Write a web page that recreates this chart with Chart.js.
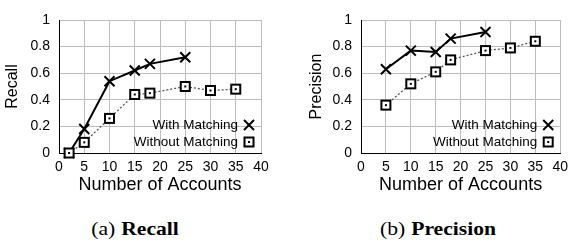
<!DOCTYPE html>
<html><head><meta charset="utf-8">
<script src="https://cdn.jsdelivr.net/npm/chart.js@4/dist/chart.umd.min.js"></script>
<style>
html,body{margin:0;padding:0;background:#fff;width:574px;height:249px;overflow:hidden}
.box{position:absolute;top:0;width:287px;height:200px}
.cap{position:absolute;top:219px;font-family:"Liberation Serif","Times New Roman",serif;font-size:18px;line-height:20px;color:#000;white-space:nowrap;transform:translateX(-50%) scaleX(1.2)}
.cap b{margin-left:5px}
</style></head><body>
<div class="box" style="left:0"><canvas id="c1" width="287" height="200"></canvas></div>
<div class="box" style="left:287px"><canvas id="c2" width="287" height="200"></canvas></div>
<div class="cap" style="left:135px">(a)<b>Recall</b></div>
<div class="cap" style="left:438px">(b)<b>Precision</b></div>
<script>
const xTicks = [0,5,10,15,20,25,30,35,40];
const yTicks = [0,0.2,0.4,0.6,0.8,1];
const seriesNames = ["With Matching","Without Matching"];

const recallWithX = [2,5,10,15,18,25];
const recallWithY = [0,0.18,0.54,0.62,0.67,0.72];
const recallWithoutX = [2,5,10,15,18,25,30,35];
const recallWithoutY = [0,0.08,0.26,0.44,0.45,0.50,0.47,0.48];

const precWithX = [5,10,15,18,25];
const precWithY = [0.63,0.77,0.76,0.86,0.91];
const precWithoutX = [5,10,15,18,25,30,35];
const precWithoutY = [0.36,0.52,0.61,0.70,0.77,0.79,0.84];

const FONT = "'Liberation Sans', Arial, Helvetica, sans-serif";
const pts = (xs, ys) => xs.map((x,i)=>({x, y: ys[i]}));

function drawMarker(ctx, style, x, y){
  ctx.save();
  ctx.strokeStyle = '#000';
  ctx.lineWidth = 2;
  if (style === 'x'){
    const r = 5;
    ctx.beginPath();
    ctx.moveTo(x-r,y-r); ctx.lineTo(x+r,y+r);
    ctx.moveTo(x-r,y+r); ctx.lineTo(x+r,y-r);
    ctx.stroke();
  } else {
    const r = 4.5;
    ctx.fillStyle = '#fff';
    ctx.fillRect(x-r,y-r,2*r,2*r);
    ctx.strokeRect(x-r,y-r,2*r,2*r);
    ctx.fillStyle = '#000';
    ctx.fillRect(x-1,y-1,2,2);
  }
  ctx.restore();
}

const legendPlugin = {
  id: 'gpLegend',
  afterDatasetsDraw(chart){
    const ctx = chart.ctx, a = chart.chartArea;
    const mx = a.right - 12, tx = a.right - 23;
    const rows = [[seriesNames[0],'x',125],[seriesNames[1],'sq',142]];
    ctx.save();
    ctx.font = "13.5px " + FONT;
    ctx.fillStyle = '#000';
    ctx.textAlign = 'right';
    ctx.textBaseline = 'middle';
    rows.forEach(([t,s,y])=>{
      ctx.fillText(t, tx, y);
      drawMarker(ctx, s, mx, y);
    });
    ctx.restore();
  }
};

const markerPlugin = {
  id: 'gpMarkers',
  afterDatasetsDraw(chart){
    const ctx = chart.ctx;
    ctx.save();
    chart.data.datasets.forEach((ds, i)=>{
      const meta = chart.getDatasetMeta(i);
      meta.data.forEach(el => drawMarker(ctx, ds.marker, el.x, el.y));
    });
    ctx.restore();
  }
};

function make(id, title, withPts, withoutPts, leftW, rightPad, titlePad){
  new Chart(document.getElementById(id), {
    type: 'line',
    data: { datasets: [
      { label: seriesNames[0], data: withPts, marker: 'x', borderColor: '#000', borderWidth: 2, pointRadius: 0, fill: false, tension: 0 },
      { label: seriesNames[1], data: withoutPts, marker: 'sq', borderColor: '#555', borderWidth: 1.3, borderDash: [2,2], pointRadius: 0, fill: false, tension: 0 }
    ]},
    options: {
      responsive: false, animation: false,
      layout: { padding: { top: 20, right: rightPad, left: 0, bottom: 0 } },
      plugins: { legend: { display: false }, tooltip: { enabled: false } },
      scales: {
        x: {
          type: 'linear', min: 0, max: 40,
          afterBuildTicks: s => { s.ticks = xTicks.map(v=>({value:v})); },
          afterFit: s => { s.height = 47; },
          ticks: { color: '#000', font: { family: FONT, size: 14 }, padding: 6, maxRotation: 0 },
          grid: { color: '#bdbdbd', lineWidth: 1, drawTicks: false },
          border: { color: '#000', width: 1 },
          title: { display: true, text: 'Number of Accounts', color: '#000', font: { family: FONT, size: 18 }, padding: { top: 0, bottom: 4 } }
        },
        y: {
          min: 0, max: 1,
          afterBuildTicks: s => { s.ticks = yTicks.map(v=>({value:v})); },
          afterFit: s => { s.width = leftW; },
          ticks: { color: '#000', font: { family: FONT, size: 14 }, padding: 9, callback: v => String(Number(v.toFixed(1))) },
          grid: { color: '#bdbdbd', lineWidth: 1, drawTicks: false },
          border: { color: '#000', width: 1 },
          title: { display: true, text: title, color: '#000', font: { family: FONT, size: 16 }, padding: { top: titlePad, bottom: 0 } }
        }
      }
    },
    plugins: [markerPlugin, legendPlugin]
  });
}

make('c1', 'Recall', pts(recallWithX, recallWithY), pts(recallWithoutX, recallWithoutY), 59, 26, 3);
make('c2', 'Precision', pts(precWithX, precWithY), pts(precWithoutX, precWithoutY), 74, 11, 20);
</script>
</body></html>
